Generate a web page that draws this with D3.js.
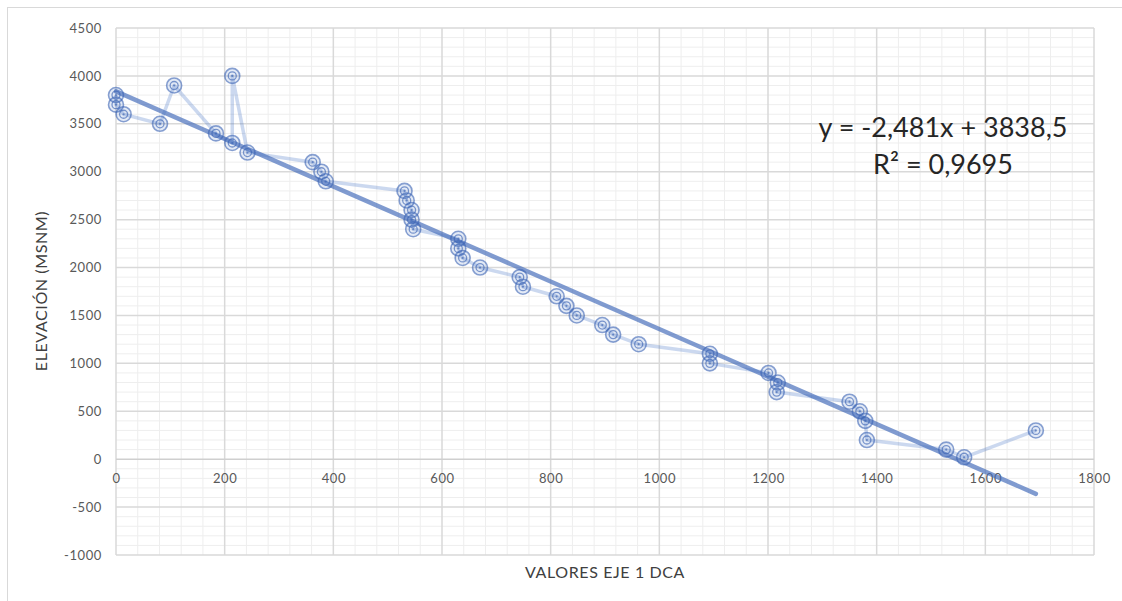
<!DOCTYPE html>
<html>
<head>
<meta charset="utf-8">
<script src="https://cdn.jsdelivr.net/npm/d3@7"></script>
<style>
  body { margin: 0; background: #fff; }
  svg { display: block; font-family: Lato, "Open Sans", sans-serif; }
</style>
</head>
<body>
<div id="chart"></div>
<script>
// DCA axis 1 values and elevation (m a.s.l.), in data order
var dcaValues = [0, 0, 14, 81, 107, 184, 214, 214, 242, 362, 378, 386,
  531, 535, 544, 544, 547, 630, 630, 638, 670, 743, 749, 811, 829, 848,
  895, 915, 962, 1093, 1093, 1201, 1218, 1216, 1350, 1369, 1379, 1382,
  1528, 1561, 1693];
var elevations = [3800, 3700, 3600, 3500, 3900, 3400, 3300, 4000, 3200, 3100, 3000, 2900,
  2800, 2700, 2600, 2500, 2400, 2300, 2200, 2100, 2000, 1900, 1800, 1700, 1600, 1500,
  1400, 1300, 1200, 1100, 1000, 900, 800, 700, 600, 500, 400, 200,
  100, 20, 300];
var xTicks = [0, 200, 400, 600, 800, 1000, 1200, 1400, 1600, 1800];
var yTicks = [-1000, -500, 0, 500, 1000, 1500, 2000, 2500, 3000, 3500, 4000, 4500];
var trendSlope = -2.481, trendIntercept = 3838.5;
var equationLines = ['y = -2,481x + 3838,5', 'R\u00B2 = 0,9695'];

var W = 1122, H = 601;
var margin = { top: 28, right: 28, bottom: 46, left: 116 },
  width = W - margin.left - margin.right,
  height = H - margin.top - margin.bottom;

var svg = d3.select('#chart').append('svg')
  .attr('width', W).attr('height', H);

// chart frame
svg.append('rect')
  .attr('x', 7.5).attr('y', 7.5)
  .attr('width', W).attr('height', H)
  .attr('fill', '#fff')
  .attr('stroke', '#d9d9d9');

var g = svg.append('g')
  .attr('transform', 'translate(' + margin.left + ',' + margin.top + ')');

var x = d3.scaleLinear().domain([0, 1800]).range([0, width]);
var y = d3.scaleLinear().domain([-1000, 4500]).range([height, 0]);

// minor grid
g.append('g').selectAll('line')
  .data(d3.range(0, 1801, 40).filter(function (d) { return d % 200 !== 0; }))
  .enter().append('line')
  .attr('x1', function (d) { return x(d); }).attr('x2', function (d) { return x(d); })
  .attr('y1', 0).attr('y2', height)
  .attr('stroke', '#eeeeee').attr('stroke-width', 1);
g.append('g').selectAll('line')
  .data(d3.range(-1000, 4501, 100).filter(function (d) { return d % 500 !== 0; }))
  .enter().append('line')
  .attr('y1', function (d) { return y(d); }).attr('y2', function (d) { return y(d); })
  .attr('x1', 0).attr('x2', width)
  .attr('stroke', '#eeeeee').attr('stroke-width', 1);

// major grid
g.append('g').selectAll('line')
  .data(xTicks).enter().append('line')
  .attr('x1', function (d) { return x(d); }).attr('x2', function (d) { return x(d); })
  .attr('y1', 0).attr('y2', height)
  .attr('stroke', '#d9d9d9').attr('stroke-width', 1.5);
g.append('g').selectAll('line')
  .data(yTicks).enter().append('line')
  .attr('y1', function (d) { return y(d); }).attr('y2', function (d) { return y(d); })
  .attr('x1', 0).attr('x2', width)
  .attr('stroke', function (d) { return d === 0 ? '#cfcfcf' : '#d9d9d9'; })
  .attr('stroke-width', 1.5);

var plain = function (d) { return String(d); };

// y axis labels
var yAxis = g.append('g')
  .call(d3.axisLeft(y).tickValues(yTicks).tickFormat(plain).tickSize(0).tickPadding(14));
yAxis.select('.domain').remove();
yAxis.selectAll('text').attr('font-size', 13).attr('fill', '#595959')
  .attr('font-family', 'Lato, sans-serif').attr('letter-spacing', 0.6);

// x axis labels, sitting on the zero line
var xAxis = g.append('g')
  .attr('transform', 'translate(0,' + y(0) + ')')
  .call(d3.axisBottom(x).tickValues(xTicks).tickFormat(plain).tickSize(0).tickPadding(15));
xAxis.select('.domain').remove();
xAxis.selectAll('text').attr('font-size', 13).attr('fill', '#595959')
  .attr('font-family', 'Lato, sans-serif').attr('letter-spacing', 0.6);

var points = dcaValues.map(function (d, i) { return { x: d, y: elevations[i] }; });
var blue = '68,114,196';

// data line
var line = d3.line().x(function (d) { return x(d.x); }).y(function (d) { return y(d.y); });
g.append('path')
  .datum(points)
  .attr('d', line)
  .attr('fill', 'none')
  .attr('stroke', 'rgba(' + blue + ',0.28)')
  .attr('stroke-width', 3.5)
  .attr('stroke-linejoin', 'round');

// linear trend
var xMax = d3.max(dcaValues);
g.append('line')
  .attr('x1', x(0)).attr('y1', y(trendIntercept))
  .attr('x2', x(xMax)).attr('y2', y(trendIntercept + trendSlope * xMax))
  .attr('stroke', 'rgba(68,108,185,0.68)')
  .attr('stroke-width', 4.5)
  .attr('stroke-linecap', 'round');

// markers
var marks = g.append('g').selectAll('g')
  .data(points).enter().append('g')
  .attr('transform', function (d) { return 'translate(' + x(d.x) + ',' + y(d.y) + ')'; });
marks.append('circle').attr('r', 7.5)
  .attr('fill', 'rgba(' + blue + ',0.15)')
  .attr('stroke', 'rgba(60,100,180,0.6)').attr('stroke-width', 1.6);
marks.append('circle').attr('r', 4)
  .attr('fill', 'none')
  .attr('stroke', 'rgba(60,100,180,0.65)').attr('stroke-width', 1.3);
marks.append('circle').attr('r', 1.1)
  .attr('fill', 'rgba(60,100,180,0.65)');

// equation
svg.append('g').selectAll('text')
  .data(equationLines).enter().append('text')
  .attr('x', 943).attr('y', function (d, i) { return 137 + i * 37; })
  .attr('text-anchor', 'middle')
  .attr('font-size', 27)
  .attr('fill', '#262626')
  .text(function (d) { return d; });

// axis titles
svg.append('text')
  .attr('x', 605).attr('y', 578)
  .attr('text-anchor', 'middle')
  .attr('font-size', 16)
  .attr('letter-spacing', 0.6)
  .attr('fill', '#404040')
  .text('VALORES EJE 1 DCA');

svg.append('text')
  .attr('transform', 'translate(47,291) rotate(-90)')
  .attr('text-anchor', 'middle')
  .attr('font-size', 16)
  .attr('letter-spacing', 0.6)
  .attr('fill', '#404040')
  .text('ELEVACIÓN (MSNM)');
</script>
</body>
</html>
